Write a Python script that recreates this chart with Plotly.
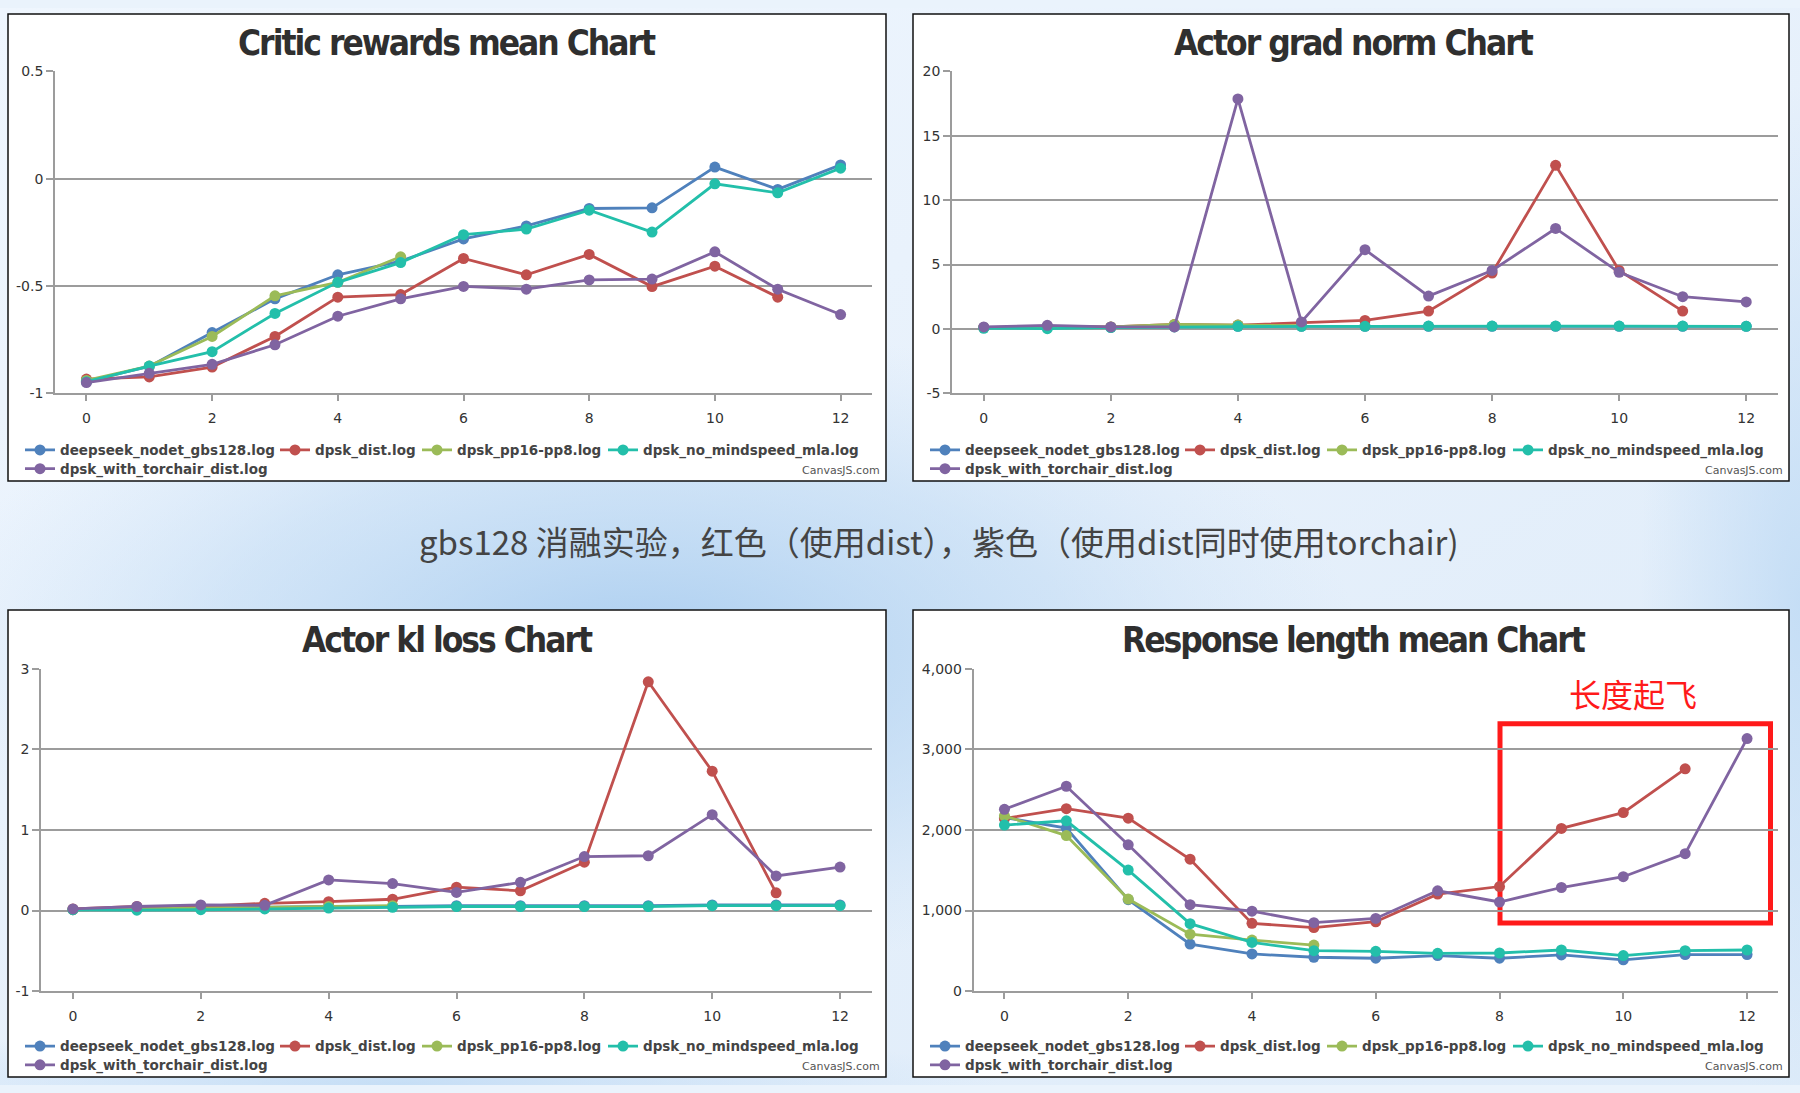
import base64
import plotly.graph_objects as go

W, H = 1800, 1093

# ---------------- data ----------------
steps = list(range(13))
series_names = ["deepseek_nodet_gbs128.log", "dpsk_dist.log", "dpsk_pp16-pp8.log",
                "dpsk_no_mindspeed_mla.log", "dpsk_with_torchair_dist.log"]
series_colors = ["#4F81BC", "#C0504E", "#9BBB58", "#23BFAA", "#8064A1"]

critic_deepseek = [-0.945, -0.875, -0.717, -0.56, -0.448, -0.384, -0.281, -0.22, -0.139, -0.136, 0.054, -0.05, 0.064]
critic_dist = [-0.934, -0.924, -0.878, -0.735, -0.552, -0.54, -0.372, -0.448, -0.353, -0.503, -0.408, -0.552]
critic_pp16 = [-0.94, -0.873, -0.735, -0.546, -0.483, -0.364]
critic_no_mla = [-0.946, -0.873, -0.806, -0.628, -0.483, -0.391, -0.261, -0.235, -0.147, -0.249, -0.024, -0.066, 0.049]
critic_torchair = [-0.95, -0.907, -0.865, -0.774, -0.641, -0.56, -0.502, -0.515, -0.472, -0.468, -0.341, -0.515, -0.633]

grad_deepseek = [0.1, 0.15, 0.12, 0.2, 0.2, 0.2, 0.2, 0.2, 0.2, 0.2, 0.2, 0.2, 0.2]
grad_dist = [0.1, 0.2, 0.15, 0.35, 0.3, 0.46, 0.66, 1.38, 4.34, 12.7, 4.54, 1.38]
grad_pp16 = [0.1, 0.15, 0.15, 0.35, 0.3, 0.25]
grad_no_mla = [0.05, 0.02, 0.1, 0.15, 0.2, 0.2, 0.2, 0.22, 0.22, 0.22, 0.22, 0.22, 0.2]
grad_torchair = [0.15, 0.28, 0.15, 0.15, 17.86, 0.54, 6.15, 2.55, 4.54, 7.8, 4.39, 2.5, 2.09]

kl_deepseek = [0.01, 0.02, 0.03, 0.04, 0.05, 0.05, 0.06, 0.06, 0.06, 0.06, 0.07, 0.07, 0.07]
kl_dist = [0.02, 0.05, 0.05, 0.09, 0.11, 0.14, 0.29, 0.245, 0.6, 2.84, 1.73, 0.22]
kl_pp16 = [0.01, 0.02, 0.03, 0.04, 0.05, 0.06]
kl_no_mla = [0.01, 0.005, 0.01, 0.02, 0.03, 0.04, 0.05, 0.05, 0.05, 0.05, 0.06, 0.06, 0.06]
kl_torchair = [0.02, 0.05, 0.07, 0.065, 0.38, 0.335, 0.225, 0.35, 0.67, 0.68, 1.19, 0.43, 0.54]

resp_deepseek = [2155, 2024, 1135, 584, 461, 420, 408, 441, 408, 449, 388, 453, 453]
resp_dist = [2143, 2265, 2147, 1637, 841, 788, 861, 1204, 1298, 2020, 2216, 2759]
resp_pp16 = [2176, 1931, 1143, 706, 633, 571]
resp_no_mla = [2061, 2114, 1502, 837, 604, 502, 494, 469, 473, 510, 441, 502, 510]
resp_torchair = [2257, 2543, 1816, 1073, 992, 849, 902, 1245, 1106, 1286, 1420, 1706, 3135]

chart_titles = ["Critic rewards mean Chart", "Actor grad norm Chart",
                "Actor kl loss Chart", "Response length mean Chart"]
panel_series = [
    [critic_deepseek, critic_dist, critic_pp16, critic_no_mla, critic_torchair],
    [grad_deepseek, grad_dist, grad_pp16, grad_no_mla, grad_torchair],
    [kl_deepseek, kl_dist, kl_pp16, kl_no_mla, kl_torchair],
    [resp_deepseek, resp_dist, resp_pp16, resp_no_mla, resp_torchair],
]
y_tickvals = [[-1, -0.5, 0, 0.5], [-5, 0, 5, 10, 15, 20], [-1, 0, 1, 2, 3], [0, 1000, 2000, 3000, 4000]]
y_ticktext = [["-1", "-0.5", "0", "0.5"], ["-5", "0", "5", "10", "15", "20"],
              ["-1", "0", "1", "2", "3"], ["0", "1,000", "2,000", "3,000", "4,000"]]
y_ranges = [[-1, 0.5], [-5, 20], [-1, 3], [0, 4000]]
x_tickvals = [0, 2, 4, 6, 8, 10, 12]

caption = "gbs128 消融实验，红色（使用dist），紫色（使用dist同时使用torchair)"
note_text = "长度起飞"
credit_text = "CanvasJS.com"

# ---------------- layout helpers (pixel -> paper) ----------------
def pxx(p):
    return p / W

def pxy(p):
    return 1 - p / H

# panel frames (left, top, right, bottom) in px
panels = [(8, 6, 886, 480), (913, 6, 1789, 480), (8, 611, 886, 1085), (913, 611, 1789, 1085)]
# plot areas (left, top, right, bottom) in px
plot_areas = [(55, 64.3, 872, 391), (952, 64.3, 1778, 391),
              (41, 670.7, 872, 997.7), (973.5, 670.7, 1778, 997.7)]
title_pos = [(447, 36), (1354, 36), (447, 641.5), (1354, 641.5)]
legend_text_x = [60, 965, 60, 965]
legend_row_y = [(450, 469), (450, 469), (1055, 1074), (1055, 1074)]
row1_widths = [210, 97, 141, None]

FONT_TICK = dict(family="DejaVu Sans, sans-serif", size=14, color="#333333")
FONT_LEG = dict(family="DejaVu Sans, sans-serif", size=13.5, color="#444444", weight="bold")
GRID = "#9C9C9C"

fig = go.Figure()
layout = dict(
    width=W, height=H, margin=dict(l=0, r=0, t=0, b=0, pad=0),
    paper_bgcolor="#EAF3FC", plot_bgcolor="rgba(0,0,0,0)",
    showlegend=True, shapes=[], annotations=[], images=[],
)

for p in range(4):
    ax = "" if p == 0 else str(p + 1)
    xa, ya = "x" + ax, "y" + ax
    leg_a = "legend" if p == 0 else "legend" + str(2 * p + 1)
    leg_b = "legend" + str(2 * p + 2)
    for s in range(5):
        vals = panel_series[p][s]
        kw = {}
        if s < 4 and row1_widths[s] is not None:
            kw["legendwidth"] = row1_widths[s]
        fig.add_trace(go.Scatter(
            x=steps[:len(vals)], y=vals, name=series_names[s],
            mode="lines+markers", xaxis=xa, yaxis=ya,
            line=dict(color=series_colors[s], width=2.8),
            marker=dict(color=series_colors[s], size=11, line=dict(width=0)),
            legend=leg_a if s < 4 else leg_b,
            hoverinfo="x+y+name", **kw))

    l, t, r, b = plot_areas[p]
    layout["xaxis" + ax] = dict(
        domain=[pxx(l), pxx(r)], anchor=ya, range=[-0.5, 12.5],
        tickvals=x_tickvals, ticks="outside", ticklen=6, tickwidth=1.5, tickcolor=GRID,
        showline=True, linecolor=GRID, linewidth=2, showgrid=False, zeroline=False,
        tickfont=FONT_TICK, ticklabelstandoff=5, fixedrange=True)
    layout["yaxis" + ax] = dict(
        domain=[pxy(b), pxy(t)], anchor=xa, range=y_ranges[p],
        tickvals=y_tickvals[p], ticktext=y_ticktext[p],
        ticks="outside", ticklen=7, tickwidth=1.5, tickcolor=GRID,
        showline=True, linecolor=GRID, linewidth=1.6,
        showgrid=True, gridcolor=GRID, gridwidth=2, zeroline=False,
        tickfont=FONT_TICK, ticklabelstandoff=0, fixedrange=True)

    r1, r2 = legend_row_y[p]
    for name, ry in ((leg_a, r1), (leg_b, r2)):
        layout[name] = dict(
            orientation="h", x=pxx(legend_text_x[p] - 40), xanchor="left",
            y=pxy(ry - 17), yanchor="top", bgcolor="rgba(0,0,0,0)",
            borderwidth=0, font=FONT_LEG, itemwidth=30, itemclick=False, itemdoubleclick=False)

    pl, pt, pr, pb = panels[p]
    layout["shapes"].append(dict(
        type="rect", xref="paper", yref="paper", x0=pxx(pl), x1=pxx(pr), y0=pxy(pb), y1=pxy(pt),
        fillcolor="#FFFFFF", line=dict(color="#111111", width=1.5), layer="below"))
    tx, ty = title_pos[p]
    layout["annotations"].append(dict(
        text="<span style='letter-spacing:-2px'>" + chart_titles[p] + "</span>",
        xref="paper", yref="paper", x=pxx(tx), y=pxy(ty),
        xanchor="center", yanchor="middle", showarrow=False,
        font=dict(family="DejaVu Sans Condensed, Liberation Sans Narrow, sans-serif",
                  size=35, color="#2F2F2F", weight="bold")))
    layout["annotations"].append(dict(
        text=credit_text, xref="paper", yref="paper", x=pxx(pr - 4), y=pxy(pb - 11),
        xanchor="right", yanchor="middle", showarrow=False,
        font=dict(family="DejaVu Sans, sans-serif", size=11, color="#555555")))

# caption between rows
layout["annotations"].append(dict(
    text=caption, xref="paper", yref="paper", x=pxx(939), y=pxy(541),
    xanchor="center", yanchor="middle", showarrow=False,
    font=dict(family="Noto Sans CJK SC, sans-serif", size=33, color="#444444")))

# red highlight box + note
layout["shapes"].append(dict(
    type="rect", xref="paper", yref="paper", x0=pxx(1500), x1=pxx(1770.5), y0=pxy(928.5), y1=pxy(726.5),
    line=dict(color="#FF1A1A", width=5), fillcolor="rgba(0,0,0,0)", layer="between"))
layout["annotations"].append(dict(
    text=note_text, xref="paper", yref="paper", x=pxx(1633), y=pxy(695),
    xanchor="center", yanchor="middle", showarrow=False,
    font=dict(family="Noto Sans CJK SC, sans-serif", size=32, color="#FF1A1A")))

# soft blue background
svg = """<svg xmlns='http://www.w3.org/2000/svg' width='1800' height='1093' viewBox='0 0 1800 1093'>
<defs>
<linearGradient id='base' x1='0' y1='0' x2='1' y2='1'>
<stop offset='0' stop-color='#EFF6FE'/><stop offset='0.55' stop-color='#E6F0FB'/><stop offset='1' stop-color='#DDEBF9'/>
</linearGradient>
<radialGradient id='glow'>
<stop offset='0' stop-color='#A8CCEF' stop-opacity='0.95'/><stop offset='0.6' stop-color='#B6D5F2' stop-opacity='0.45'/><stop offset='1' stop-color='#C6DEF5' stop-opacity='0'/>
</radialGradient>
<radialGradient id='glow2'>
<stop offset='0' stop-color='#C2DCF5' stop-opacity='0.9'/><stop offset='1' stop-color='#C2DCF5' stop-opacity='0'/>
</radialGradient>
</defs>
<rect width='1800' height='1093' fill='url(#base)'/>
<ellipse cx='640' cy='650' rx='720' ry='330' fill='url(#glow)'/>
<ellipse cx='1800' cy='600' rx='160' ry='520' fill='url(#glow2)'/>
<ellipse cx='400' cy='1093' rx='600' ry='60' fill='url(#glow2)'/>
</svg>"""
layout["images"].append(dict(
    source="data:image/svg+xml;base64," + base64.b64encode(svg.encode()).decode(),
    xref="paper", yref="paper", x=0, y=1, sizex=1, sizey=1, xanchor="left", yanchor="top",
    sizing="stretch", layer="below"))

fig.update_layout(**layout)
fig.write_html("out.html", config={"displayModeBar": False})
